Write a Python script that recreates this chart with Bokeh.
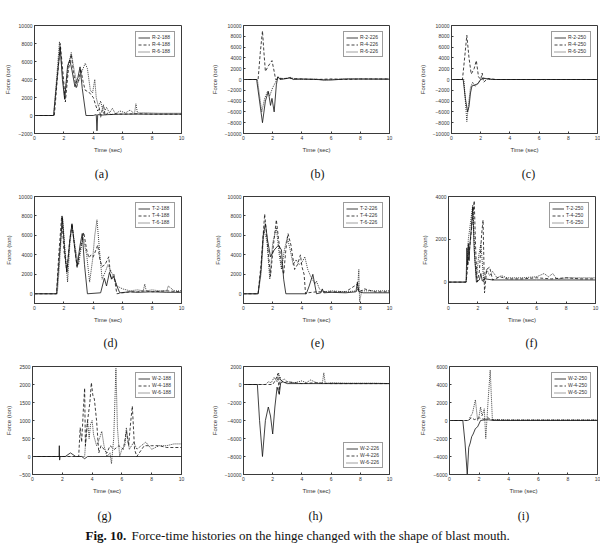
from bokeh.plotting import figure
from bokeh.layouts import column, row
from bokeh.models import Legend, LegendItem, Label, FixedTicker, Range1d
from bokeh.embed import file_html
from bokeh.resources import INLINE

# ---------------- data: time (sec) / force (ton) ----------------
X_TICKS = [0, 2, 4, 6, 8, 10]

# (a) R-x-188
t_r2_188 = [0, 1.3, 1.5, 1.75, 1.9, 2.05, 2.25, 2.4, 2.55, 2.75, 2.95, 3.1, 3.25, 3.5, 4.0, 4.2, 4.25, 4.3, 4.6, 5.0, 6.0, 7.0, 8.0, 10]
f_r2_188 = [0, 0, 3500, 7600, 4000, 1800, 5500, 6200, 5000, 3200, 4200, 5400, 3000, 0, 0, 100, -1700, 100, 50, 100, 150, 150, 150, 150]
t_r4_188 = [0, 1.35, 1.55, 1.75, 1.95, 2.1, 2.3, 2.5, 2.65, 2.85, 3.0, 3.15, 3.3, 3.45, 3.7, 3.9, 4.0, 4.15, 4.3, 4.4, 4.5, 4.6, 4.7, 4.8, 5.0, 5.2, 5.5, 6.0, 7.0, 8.0, 10]
f_r4_188 = [0, 0, 4000, 8000, 4500, 1500, 5000, 6800, 4800, 3000, 4000, 5200, 3800, 2800, 2600, 2200, 2000, 1200, 500, 900, -200, 600, 1200, 0, 300, 100, 200, 150, 200, 150, 150]
t_r6_188 = [0, 1.3, 1.5, 1.7, 1.9, 2.05, 2.3, 2.5, 2.7, 2.9, 3.05, 3.2, 3.45, 3.6, 3.8, 3.95, 4.1, 4.2, 4.35, 4.5, 4.7, 4.9, 5.1, 5.3, 5.5, 5.8, 6.2, 6.5, 6.8, 6.9, 7.0, 7.5, 8.5, 10]
f_r6_188 = [0, 0, 4000, 8200, 4500, 2000, 5500, 7000, 5000, 3500, 4000, 4800, 5800, 5200, 2800, 2500, 4000, 2000, 1000, 1600, 200, 900, 300, 800, 200, 500, 300, 600, 200, 1300, 300, 300, 250, 250]

# (b) R-x-226
t_r2_226 = [0, 0.9, 1.1, 1.3, 1.5, 1.7, 1.85, 1.95, 2.1, 2.25, 2.35, 2.5, 3.0, 3.2, 3.4, 4, 5, 6, 7, 10]
f_r2_226 = [0, 0, -4000, -8000, -4000, -2200, -4800, -3500, -6000, -1000, 500, 0, 200, 400, 0, 100, 0, -100, 100, 50]
t_r4_226 = [0, 1.0, 1.15, 1.3, 1.4, 1.5, 1.7, 1.95, 2.1, 2.2, 2.4, 3, 4, 5, 6, 7, 8, 10]
f_r4_226 = [0, 0, 5000, 9000, 5000, 1500, 2500, 3500, 1500, 0, 200, 200, 100, 0, 100, 0, 100, 100]
t_r6_226 = [0, 0.95, 1.1, 1.25, 1.45, 1.65, 1.8, 2.0, 2.2, 2.35, 2.6, 3.2, 4, 5, 5.5, 6, 7, 10]
f_r6_226 = [0, 0, -3000, -6000, -3500, -2200, -3000, -1500, -500, 500, 100, 300, 0, 100, -200, 0, 100, 100]

# (c) R-x-250
t_r2_250 = [0, 0.8, 0.95, 1.1, 1.2, 1.3, 1.4, 1.6, 1.8, 2.0, 2.2, 2.5, 3, 4, 10]
f_r2_250 = [0, 0, -3500, -6000, -5000, -2500, -1200, -1000, -800, 0, 200, 100, 0, 0, 0]
t_r4_250 = [0, 0.75, 0.9, 1.05, 1.2, 1.35, 1.55, 1.7, 1.85, 2.0, 2.1, 2.2, 2.5, 3, 10]
f_r4_250 = [0, 0, 4000, 8200, 4000, 1000, 2000, 3500, 500, 0, 1200, -500, 200, 0, 0]
t_r6_250 = [0, 0.85, 0.95, 1.05, 1.15, 1.3, 1.45, 1.6, 1.8, 2.0, 2.2, 2.6, 3, 10]
f_r6_250 = [0, 0, -4000, -7800, -5000, -1500, -500, -1300, -800, 0, 300, 0, 0, 0]

# (d) T-x-188
t_t2_188 = [0, 1.5, 1.7, 1.9, 2.05, 2.2, 2.4, 2.55, 2.75, 2.9, 3.1, 3.25, 3.4, 3.6, 4.5, 4.75, 4.9, 5.1, 5.25, 5.4, 5.6, 5.8, 6.5, 7, 8, 9, 10]
f_t2_188 = [0, 0, 4000, 7800, 4500, 2200, 5500, 7200, 4500, 2800, 5000, 6200, 3000, 0, 100, 1600, 800, 2200, 1500, 1800, 800, 100, 200, 150, 200, 150, 150]
t_t4_188 = [0, 1.5, 1.65, 1.85, 2.0, 2.2, 2.4, 2.55, 2.75, 2.9, 3.1, 3.35, 3.55, 3.7, 3.85, 4.0, 4.3, 4.45, 4.6, 4.8, 5.05, 5.2, 5.4, 5.6, 6.0, 6.5, 7.0, 7.5, 8, 9, 10]
f_t4_188 = [0, 0, 4000, 8000, 4500, 2300, 5500, 7200, 4500, 2700, 4500, 6300, 4500, 3700, 4000, 3800, 5000, 3500, 2800, 3000, 3800, 1500, 2000, 0, 100, 200, 200, 300, 200, 300, 200]
t_t6_188 = [0, 1.55, 1.7, 1.9, 2.1, 2.25, 2.4, 2.55, 2.8, 3.0, 3.15, 3.3, 3.55, 3.75, 3.95, 4.1, 4.25, 4.45, 4.6, 4.8, 5.0, 5.3, 5.6, 6.0, 6.5, 7.0, 7.4, 7.5, 7.6, 8.0, 8.5, 9.0, 9.1, 9.5, 10]
f_t6_188 = [0, 0, 3000, 8000, 4000, 1200, 5000, 7000, 4500, 3000, 4500, 5800, 4000, 1200, 3500, 6000, 7600, 4000, 1500, 2200, 3000, 2000, 800, 500, 300, 400, 300, 1000, 300, 400, 300, 300, 800, 300, 300]

# (e) T-x-226
t_t2_226 = [0, 1.0, 1.2, 1.35, 1.5, 1.65, 1.85, 2.1, 2.4, 2.6, 2.75, 2.9, 4.3, 4.5, 4.75, 4.9, 5.0, 5.3, 5.4, 5.5, 6, 7, 7.7, 7.8, 7.9, 8.2, 9, 10]
f_t2_226 = [0, 0, 2500, 6000, 7200, 5500, 3800, 4500, 5000, 4500, 1500, 0, 0, 800, 2000, 800, 0, 100, 500, 100, 150, 100, 200, 1200, 200, 100, 100, 100]
t_t4_226 = [0, 1.0, 1.2, 1.45, 1.65, 1.85, 2.05, 2.25, 2.45, 2.6, 2.75, 2.9, 3.05, 3.25, 3.5, 3.7, 3.9, 4.0, 4.15, 4.25, 4.4, 5, 6, 7, 7.8, 7.9, 8.3, 9, 10]
f_t4_226 = [0, 0, 3000, 8200, 5000, 1800, 5000, 7600, 5000, 3000, 2000, 4500, 6200, 5000, 2500, 3000, 4000, 2800, 2000, 0, 100, 200, 200, 200, 1000, 200, 500, 200, 200]
t_t6_226 = [0, 1.0, 1.2, 1.4, 1.6, 1.8, 2.0, 2.25, 2.45, 2.6, 2.8, 3.0, 3.2, 3.4, 3.6, 3.8, 4.0, 4.2, 4.4, 4.6, 4.9, 5.0, 5.2, 5.5, 6, 7, 7.8, 7.9, 7.95, 8.1, 8.5, 9, 10]
f_t6_226 = [0, 0, 2000, 6500, 5500, 1500, 5200, 6800, 4000, 2500, 4500, 5800, 4500, 3000, 3500, 3000, 3200, 3800, 2500, 1800, 1000, 1300, 500, 200, 300, 200, 300, 2500, -800, 300, 300, 300, 300]

# (f) T-x-250
t_t2_250 = [0, 1.2, 1.25, 1.3, 1.35, 1.4, 1.45, 1.55, 1.65, 1.75, 1.9, 2.1, 2.2, 2.3, 2.5, 3, 4, 6, 8, 10]
f_t2_250 = [0, 0, 1600, 800, 1800, 1000, 1700, 2500, 3500, 1500, 0, 100, 400, 50, 150, 100, 100, 100, 100, 100]
t_t4_250 = [0, 1.2, 1.5, 1.75, 1.85, 1.95, 2.1, 2.25, 2.35, 2.45, 2.6, 2.8, 3.0, 3.5, 4, 5, 6, 7, 8, 9, 10]
f_t4_250 = [0, 0, 2000, 3800, 1500, 0, 500, 2200, 2900, -500, 600, 700, 100, 250, 150, 150, 200, 150, 200, 150, 150]
t_t6_250 = [0, 1.2, 1.35, 1.5, 1.65, 1.8, 1.9, 2.05, 2.2, 2.4, 2.6, 2.8, 3.0, 3.3, 3.6, 4, 5, 6, 6.5, 6.8, 7.1, 7.3, 7.5, 8, 9, 10]
f_t6_250 = [0, 0, 2000, 2800, 3600, 1000, 200, 1200, 1800, 0, 600, 300, 500, 200, 300, 200, 200, 250, 400, 250, 400, 200, 150, 200, 200, 200]

# (g) W-x-188
t_w2_188 = [0, 1.78, 1.8, 1.82, 1.85, 2.2, 2.55, 2.9, 3.3, 3.5, 3.7, 4, 10]
f_w2_188 = [0, 0, 300, -100, 0, 0, 100, 0, 0, -60, 0, 0, 0]
t_w4_188 = [0, 3.1, 3.2, 3.3, 3.4, 3.5, 3.55, 3.7, 3.85, 3.95, 4.05, 4.15, 4.3, 4.45, 4.6, 4.8, 5.0, 5.2, 5.5, 5.8, 6.1, 6.3, 6.45, 6.6, 6.7, 6.85, 7.0, 7.5, 8.0, 8.5, 9.0, 10]
f_w4_188 = [0, 0, 800, 400, 1200, 1900, 300, 1000, 1500, 2050, 1700, 1600, 1000, 100, 300, 200, 100, 300, 200, 300, 200, 700, 300, 1000, 1400, 200, 0, 300, 300, 300, 250, 250]
t_w6_188 = [0, 3.5, 3.6, 3.7, 3.8, 3.9, 4.0, 4.1, 4.3, 4.5, 4.65, 4.8, 5.0, 5.2, 5.3, 5.45, 5.6, 5.7, 5.85, 6.0, 6.2, 6.3, 6.5, 6.8, 7.0, 7.3, 7.6, 8.0, 8.5, 9.0, 9.5, 10]
f_w6_188 = [0, 0, 600, 1000, 500, 900, 1000, 600, 300, 500, 700, 300, 0, 100, -200, 500, 2450, 800, 0, 200, 300, 800, 200, 400, 200, 300, 400, 200, 300, 300, 350, 350]

# (h) W-x-226
t_w2_226 = [0, 0.95, 1.1, 1.3, 1.5, 1.7, 1.85, 2.0, 2.15, 2.3, 2.45, 2.55, 2.7, 3.0, 4, 6, 10]
f_w2_226 = [0, 0, -4000, -8000, -4000, -2500, -3500, -5500, -2500, -300, -1100, 200, 300, 100, 100, 100, 100]
t_w4_226 = [0, 2.0, 2.2, 2.35, 2.45, 2.5, 2.6, 2.8, 3.0, 4, 5, 6, 7, 8, 10]
f_w4_226 = [0, 0, 500, 1200, -1000, 800, 400, 200, 300, 100, 200, 100, 100, 100, 100]
t_w6_226 = [0, 1.5, 1.7, 1.9, 2.1, 2.3, 2.4, 2.55, 2.8, 3.0, 3.5, 4.0, 4.3, 4.6, 5.0, 5.4, 5.5, 5.6, 6, 7, 8, 9, 10]
f_w6_226 = [0, 0, 300, 200, 800, 300, 1300, 400, 600, 300, 200, 400, 200, 500, 200, 100, 1300, 100, 200, 150, 150, 150, 100]

# (i) W-x-250
t_w2_250 = [0, 0.9, 1.05, 1.2, 1.3, 1.4, 1.5, 1.6, 1.75, 1.9, 2.1, 2.5, 3, 10]
f_w2_250 = [0, 0, -2500, -6000, -3000, -2500, -1800, -1500, -900, -700, 0, 100, 0, 0]
t_w4_250 = [0, 1.3, 1.45, 1.7, 2.0, 2.3, 2.6, 2.8, 3.5, 5, 7, 10]
f_w4_250 = [0, 0, 300, 100, 300, 150, 300, 100, 50, 50, 50, 50]
t_w6_250 = [0, 1.3, 1.4, 1.55, 1.75, 1.9, 2.0, 2.1, 2.2, 2.35, 2.45, 2.6, 2.75, 2.9, 3.1, 4, 10]
f_w6_250 = [0, 0, 400, 800, 2300, 0, 500, 1500, 500, 1300, -2000, 2000, 5600, 0, 100, 50, 50]

TAGS = [["(a)", "(b)", "(c)"], ["(d)", "(e)", "(f)"], ["(g)", "(h)", "(i)"]]

# ---------------- styling ----------------
DASHES = ["solid", "3 2", "1 1"]
SANS = "Liberation Sans"
SERIF = "Liberation Serif"
FRAME = "#3a3a3a"


def panel(series, names, yr, yticks, legend_loc, left, right, top, bottom, height):
    p = figure(width=200, height=height, output_backend="svg", toolbar_location=None,
               x_range=Range1d(0, 10), y_range=Range1d(*yr),
               min_border_left=left, min_border_right=right,
               min_border_top=top, min_border_bottom=bottom)
    p.background_fill_color = "white"
    p.border_fill_color = "white"
    p.outline_line_color = FRAME
    p.outline_line_width = 1
    p.xgrid.visible = False
    p.ygrid.visible = False
    p.xaxis.ticker = FixedTicker(ticks=X_TICKS)
    p.yaxis.ticker = FixedTicker(ticks=yticks)
    p.xaxis.axis_label = "Time (sec)"
    p.yaxis.axis_label = "Force (ton)"
    for ax in (p.xaxis[0], p.yaxis[0]):
        ax.axis_line_color = FRAME
        ax.major_tick_in = 2
        ax.major_tick_out = 0
        ax.major_tick_line_color = FRAME
        ax.minor_tick_line_color = None
        ax.major_label_text_font = SANS
        ax.major_label_text_font_size = "5px"
        ax.major_label_text_color = "#333333"
        ax.major_label_standoff = 2
        ax.axis_label_text_font = SANS
        ax.axis_label_text_font_size = "6px"
        ax.axis_label_text_font_style = "normal"
        ax.axis_label_text_color = "#333333"
        ax.axis_label_standoff = 4

    items = []
    for (t, f), name, dash in zip(series, names, DASHES):
        r = p.line(t, f, line_color="#111111", line_width=0.8, line_dash=dash)
        items.append(LegendItem(label=name, renderers=[r]))
    leg = Legend(items=items, location=legend_loc,
                 label_text_font=SANS, label_text_font_size="5px",
                 label_text_color="#333333",
                 label_height=5, label_standoff=2, glyph_width=12, glyph_height=5,
                 spacing=1, padding=2, margin=6,
                 border_line_color=FRAME, border_line_width=0.8,
                 background_fill_alpha=1)
    p.add_layout(leg)
    return p


def text_strip(height, entries, size="12px"):
    """A plain 600 px wide strip holding text labels (x, y, text, bold)."""
    s = figure(width=600, height=height, output_backend="svg", toolbar_location=None,
               x_range=Range1d(0, 600), y_range=Range1d(0, height),
               min_border=0, outline_line_color=None)
    s.axis.visible = False
    s.xgrid.visible = False
    s.ygrid.visible = False
    for x, y, txt, bold, align in entries:
        s.add_layout(Label(x=x, y=y, x_units="screen", y_units="screen", text=txt,
                           text_font=SERIF, text_font_size=size,
                           text_font_style="bold" if bold else "normal",
                           text_align=align, text_baseline="middle",
                           text_color="#111111"))
    return s


def names_for(c, k):
    return [f"{c}-2-{k}", f"{c}-4-{k}", f"{c}-6-{k}"]


TK_A = [-2000, 0, 2000, 4000, 6000, 8000, 10000]
TK_B = list(range(-10000, 10001, 2000))
TK_D = [0, 2000, 4000, 6000, 8000, 10000]
TK_F = [0, 2000, 4000]
TK_G = [-500, 0, 500, 1000, 1500, 2000, 2500]
TK_H = list(range(-10000, 2001, 2000))
TK_I = list(range(-6000, 6001, 2000))

# row 1: frames 25..133
pa = panel([(t_r2_188, f_r2_188), (t_r4_188, f_r4_188), (t_r6_188, f_r6_188)],
           names_for("R", 188), (-2000, 10000), TK_A, "top_right", 34, 19, 25, 27, 160)
pb = panel([(t_r2_226, f_r2_226), (t_r4_226, f_r4_226), (t_r6_226, f_r6_226)],
           names_for("R", 226), (-10000, 10000), TK_B, "top_right", 43, 11, 25, 27, 160)
pc = panel([(t_r2_250, f_r2_250), (t_r4_250, f_r4_250), (t_r6_250, f_r6_250)],
           names_for("R", 250), (-10000, 10000), TK_B, "top_right", 51, 3, 25, 27, 160)
tags1 = text_strip(26, [(101, 13, TAGS[0][0], False, "center"),
                        (317, 13, TAGS[0][1], False, "center"),
                        (528, 13, TAGS[0][2], False, "center")])

# row 2: frames 196..303
pd = panel([(t_t2_188, f_t2_188), (t_t4_188, f_t4_188), (t_t6_188, f_t6_188)],
           names_for("T", 188), (-1000, 10000), TK_D, "top_right", 34, 19, 10, 22, 139)
pe = panel([(t_t2_226, f_t2_226), (t_t4_226, f_t4_226), (t_t6_226, f_t6_226)],
           names_for("T", 226), (-1000, 10000), TK_D, "top_right", 43, 11, 10, 22, 139)
pf = panel([(t_t2_250, f_t2_250), (t_t4_250, f_t4_250), (t_t6_250, f_t6_250)],
           names_for("T", 250), (-1000, 4000), TK_F, "top_right", 48, 5, 10, 22, 139)
tags2 = text_strip(35, [(110, 18, TAGS[1][0], False, "center"),
                        (317, 18, TAGS[1][1], False, "center"),
                        (531, 18, TAGS[1][2], False, "center")])

# row 3: frames 366..474
pg = panel([(t_w2_188, f_w2_188), (t_w4_188, f_w4_188), (t_w6_188, f_w6_188)],
           names_for("W", 188), (-500, 2500), TK_G, "top_right", 32, 19, 6, 22, 136)
ph = panel([(t_w2_226, f_w2_226), (t_w4_226, f_w4_226), (t_w6_226, f_w6_226)],
           names_for("W", 226), (-10000, 2000), TK_H, "bottom_right", 43, 11, 6, 22, 136)
pi = panel([(t_w2_250, f_w2_250), (t_w4_250, f_w4_250), (t_w6_250, f_w6_250)],
           names_for("W", 250), (-6000, 6000), TK_I, "top_right", 49, 3, 6, 22, 136)
tags3 = text_strip(29, [(104, 10, TAGS[2][0], False, "center"),
                        (315, 10, TAGS[2][1], False, "center"),
                        (523, 10, TAGS[2][2], False, "center")])

# figure caption
cap = text_strip(22, [(85, 12, "Fig. 10.", True, "left"),
                      (131, 12, "Force-time histories on the hinge changed with the shape of blast mouth.",
                       False, "left")], size="13px")

layout = column(row(pa, pb, pc), tags1, row(pd, pe, pf), tags2,
                row(pg, ph, pi), tags3, cap, spacing=0)

open("out.html", "w").write(file_html(layout, INLINE))
